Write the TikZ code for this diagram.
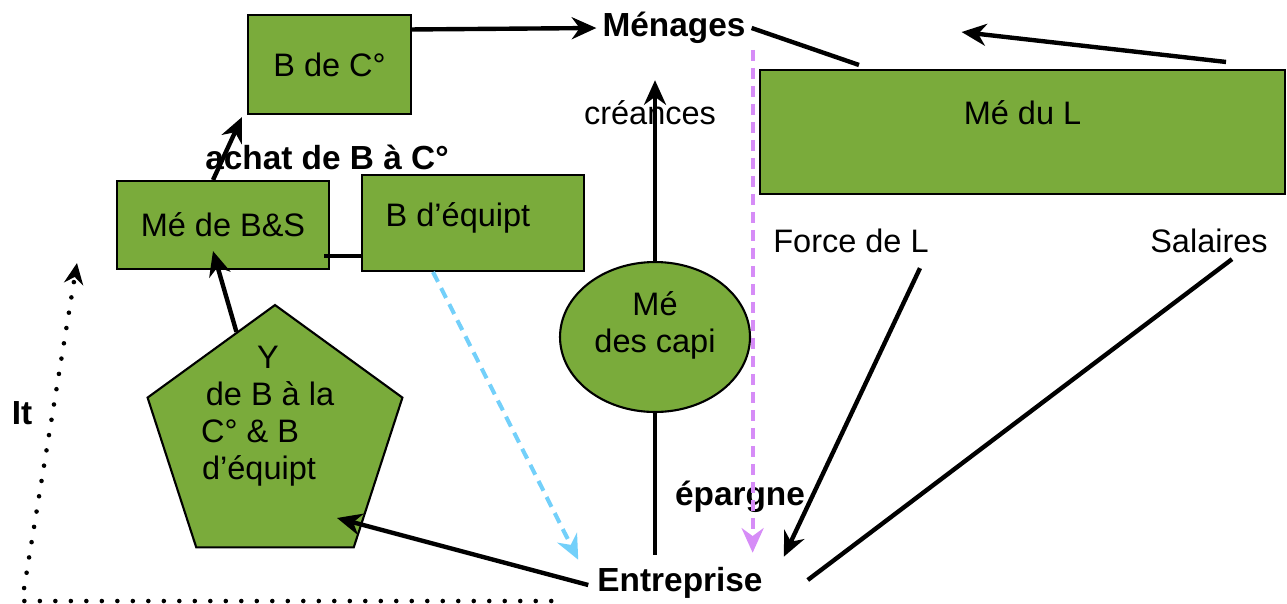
\documentclass[tikz,border=0pt]{standalone}
\usepackage{fontspec}
\setmainfont{Liberation Sans}
\usetikzlibrary{arrows.meta,shapes.geometric,calc}
\definecolor{grn}{RGB}{122,171,59}
\definecolor{pinkv}{RGB}{214,140,247}
\definecolor{skyb}{RGB}{115,208,250}
\begin{document}
\begin{tikzpicture}[x=0.02cm,y=-0.02cm,
  font=\fontsize{18.5}{21}\selectfont,
  box/.style={draw=black, line width=1.2pt, fill=grn, inner sep=0pt},
  bl/.style={font=\fontsize{19}{22}\selectfont\bfseries},
  tip/.style={-{Stealth[length=14pt,width=12.5pt,inset=4.5pt]}},
  arr/.style={line width=2.5pt, tip},
  ln/.style={line width=2.5pt},
  pinkarr/.style={pinkv, line width=2.3pt, dash pattern=on 0.22cm off 0.14cm, tip},
  bluearr/.style={skyb, line width=2.3pt, dash pattern=on 0.22cm off 0.14cm, tip},
  dotarr/.style={line width=2.6pt, line cap=round, dash pattern=on 0pt off 0.31cm, -{Stealth[length=12pt,width=11pt,inset=4pt]}},
]
\useasboundingbox (0,0) rectangle (1287,603);

% boxes and shapes
\node[box, minimum width=3.26cm, minimum height=1.98cm] (bdc) at (329.5,64.5) {B de C°};
\node[box, minimum width=4.24cm, minimum height=1.76cm] (mbs) at (223,225) {Mé de B\&S};
\node[box, minimum width=4.44cm, minimum height=1.92cm,
  label={[xshift=-0.3cm,yshift=0.1cm]center:B d’équipt}] (bde) at (473,223) {};
\node[box, minimum width=10.5cm, minimum height=2.48cm,
  label={[yshift=0.38cm]center:Mé du L}] (mdl) at (1022.5,132) {};
\node[box, ellipse, minimum width=3.8cm, minimum height=3cm,
  label={[align=center,yshift=0.24cm]center:Mé\\des capi}] (cap) at (655,337) {};
\node[box, regular polygon, regular polygon sides=5, minimum size=5.36cm,
  label={[align=center,yshift=0.46cm]center:Y\kern0.28cm\\de B à la\kern0.2cm\\C° \& B\kern1cm\\d’équipt\kern0.64cm}] (pent) at (275,439) {};

% texts
\node[bl] (men) at (674,28) {Ménages};
\node[bl] (ent) at (680,583) {Entreprise};
\node[bl] (epa) at (740,497) {épargne};
\node[bl] (ach) at (327,157) {achat de B à C°};
\node[bl] (it) at (22,413) {It};
\node (cre) at (650,113) {créances};
\node (fdl) at (851,241) {Force de L};
\node (sal) at (1209,241) {Salaires};

% connectors
\draw[arr] (bdc.23) -- (men.west);
\draw[arr] ([xshift=-0.2cm]mbs.north) -- ([xshift=-0.1cm,yshift=-0.04cm]bdc.south west);
\draw[arr] ($(pent.corner 1)!0.3!(pent.corner 2)$) -- ([xshift=-0.2cm,yshift=0.38cm]mbs.south);
\coordinate (mbsr) at ([xshift=-0.12cm,yshift=-0.62cm]mbs.east);
\draw[ln] (mbsr) -- (mbsr -| bde.west);
\draw[arr] ([xshift=-0.06cm,yshift=-0.04cm]ent.west) -- ([xshift=1.24cm,yshift=-1.58cm]pent.center);
\draw[ln] (men.east) -- ([xshift=2cm,yshift=0.08cm]mdl.north west);
\draw[arr] ([xshift=-1.2cm,yshift=0.14cm]mdl.north east) -- ([xshift=4.2cm,yshift=-0.08cm]men.east);
\draw[arr] ([xshift=1.38cm,yshift=-0.18cm]fdl.south) -- ([xshift=0.3cm,yshift=0.09cm]ent.north east);
\draw[ln] ([xshift=0.46cm]sal.south) -- ([xshift=0.78cm,yshift=0.06cm]ent.east);
\coordinate (eb) at ([yshift=0.13cm]ent.north);
\draw[ln] (cap.south) -- (cap.south |- eb);
\coordinate (ct) at ([yshift=0.29cm]cre.north);
\draw[arr] (cap.north) -- (cap.north |- ct);
\coordinate (pk) at ([xshift=0.02cm]men.south east);
\draw[pinkarr] (pk) -- ($(pk |- ent.north)+(0,-8.5)$);
\draw[bluearr] ([xshift=-0.8cm]bde.south) -- ($(ent.north west)+(-13,-1.5)$);
\coordinate (ds) at ([xshift=-0.8cm,yshift=-0.36cm]ent.west);
\draw[dotarr] (ds) -- (ds -| it.center) -- ([xshift=-0.78cm,yshift=0.14cm]mbs.south west);
\end{tikzpicture}
\end{document}
